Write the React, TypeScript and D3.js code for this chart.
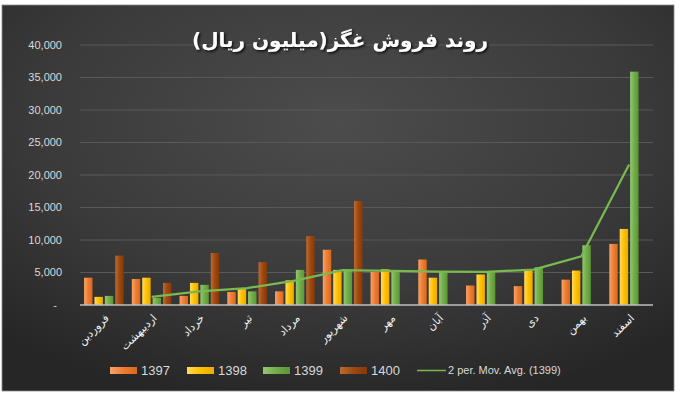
import React from "react";
import { scaleBand, scaleLinear, line, format } from "d3";

// chart data
const months = [
  "فروردین", "اردیبهشت", "خرداد", "تیر", "مرداد", "شهریور",
  "مهر", "آبان", "آذر", "دی", "بهمن", "اسفند",
];
const years = ["1397", "1398", "1399", "1400"];
const sales1397 = [4200, 4000, 1400, 2000, 2100, 8500, 5100, 7000, 3000, 2900, 3900, 9400];
const sales1398 = [1250, 4200, 3400, 2500, 3800, 5400, 5500, 4200, 4700, 5300, 5300, 11700];
const sales1399 = [1400, 1100, 3100, 2100, 5400, 5300, 5200, 5100, 5100, 5800, 9200, 35900];
const sales1400 = [7600, 3400, 8000, 6600, 10600, 16000, null, null, null, null, null, null];
const movAvg1399 = [null, 1250, 2100, 2600, 3750, 5350, 5250, 5150, 5100, 5450, 7500, 21600];
const yTicks = [0, 5000, 10000, 15000, 20000, 25000, 30000, 35000, 40000];
const title = "روند فروش  غگز(میلیون ریال)";
const maLabel = "2 per. Mov. Avg. (1399)";

const series = [sales1397, sales1398, sales1399, sales1400];
const colors = ["#ED7D31", "#FFC000", "#70AD47", "#9E480E"];
const lightColors = ["#F7A36B", "#FFDA5C", "#93C86F", "#BE6A33"];
const darkColors = ["#D9681E", "#EBAA00", "#5C9636", "#86390A"];

const W = 700;
const H = 400;
const plot = { left: 80, right: 653, top: 45, bottom: 305 };

export default function App() {
  const x0 = scaleBand<string>()
    .domain(months)
    .range([plot.left, plot.right])
    .paddingInner(0.17)
    .paddingOuter(0.085);
  const x1 = scaleBand<string>()
    .domain(years)
    .range([0, x0.bandwidth()])
    .paddingInner(0.19)
    .paddingOuter(0);
  const y = scaleLinear().domain([0, 40000]).range([plot.bottom, plot.top]);
  const fmt = format(",");

  const center = (m: string) => (x0(m) as number) + x0.bandwidth() / 2;

  const maLine = line<number | null>()
    .defined((d) => d != null)
    .x((_, i) => center(months[i]))
    .y((d) => y(d as number));

  const legendX = [110, 187, 263, 340];

  return (
    <div style={{ position: "absolute", left: 0, top: 0 }}>
      <svg width={W} height={H} style={{ display: "block", background: "#fff" }}>
        <defs>
          <radialGradient id="bg" cx="50%" cy="30%" r="75%">
            <stop offset="0%" stopColor="#4c4c4c" />
            <stop offset="60%" stopColor="#3a3a3a" />
            <stop offset="100%" stopColor="#262626" />
          </radialGradient>
          {colors.map((c, i) => (
            <linearGradient key={c} id={`bar${i}`} x1="0" x2="1" y1="0" y2="0">
              <stop offset="0%" stopColor={lightColors[i]} />
              <stop offset="50%" stopColor={c} />
              <stop offset="100%" stopColor={darkColors[i]} />
            </linearGradient>
          ))}
          <filter id="shadow" x="-10%" y="-30%" width="120%" height="160%">
            <feDropShadow dx="1.5" dy="1.5" stdDeviation="1" floodColor="#000" floodOpacity="0.8" />
          </filter>
        </defs>

        <rect x={2} y={5} width={672} height={386} fill="url(#bg)" stroke="#8c8c8c" strokeWidth={0.8} />

        {/* grid + y labels */}
        {yTicks.map((t) => (
          <g key={t}>
            {t > 0 && (
              <line x1={plot.left} x2={plot.right} y1={y(t)} y2={y(t)} stroke="#595959" strokeWidth={1} />
            )}
            <text
              x={t === 0 ? 57 : 62}
              y={y(t)}
              dy="0.35em"
              textAnchor="end"
              fill="#d9d9d9"
              fontSize={11}
              fontFamily="Liberation Sans, Arial, sans-serif"
            >
              {t === 0 ? "-" : fmt(t)}
            </text>
          </g>
        ))}

        {/* bars */}
        {months.map((m, mi) => (
          <g key={m} transform={`translate(${x0(m)},0)`}>
            {series.map((s, si) => {
              const v = s[mi];
              if (v == null) return null;
              return (
                <rect
                  key={si}
                  x={x1(years[si])}
                  y={y(v)}
                  width={x1.bandwidth()}
                  height={y(0) - y(v)}
                  fill={`url(#bar${si})`}
                />
              );
            })}
          </g>
        ))}

        <line x1={plot.left} x2={plot.right} y1={y(0)} y2={y(0)} stroke="#bfbfbf" strokeWidth={1.5} />

        {/* moving average */}
        <path d={maLine(movAvg1399) || ""} fill="none" stroke="#7ab851" strokeWidth={2.25} />

        {/* x labels */}
        {months.map((m) => (
          <text
            key={m}
            transform={`translate(${center(m) + 3},${316}) rotate(-45)`}
            textAnchor="end"
            dy="0.35em"
            fill="#f2f2f2"
            fontSize={11}
            fontFamily="DejaVu Sans, sans-serif"
          >
            {m}
          </text>
        ))}

        {/* title */}
        <text
          x={340}
          y={40}
          dy="0.35em"
          textAnchor="middle"
          fill="#fff"
          fontSize={20}
          fontWeight="bold"
          fontFamily="DejaVu Sans, sans-serif"
          style={{ direction: "rtl" }}
          filter="url(#shadow)"
        >
          {title}
        </text>

        {/* legend */}
        {years.map((yr, i) => (
          <g key={yr}>
            <rect x={legendX[i]} y={367} width={27} height={7} fill={`url(#bar${i})`} />
            <text
              x={legendX[i] + 31}
              y={370.5}
              dy="0.35em"
              fill="#d9d9d9"
              fontSize={13}
              fontFamily="Liberation Sans, Arial, sans-serif"
            >
              {yr}
            </text>
          </g>
        ))}
        <line x1={417} x2={446} y1={370.5} y2={370.5} stroke="#7ab851" strokeWidth={1.5} />
        <text
          x={448}
          y={370.5}
          dy="0.35em"
          fill="#d9d9d9"
          fontSize={11}
          fontFamily="Liberation Sans, Arial, sans-serif"
        >
          {maLabel}
        </text>
      </svg>
    </div>
  );
}
